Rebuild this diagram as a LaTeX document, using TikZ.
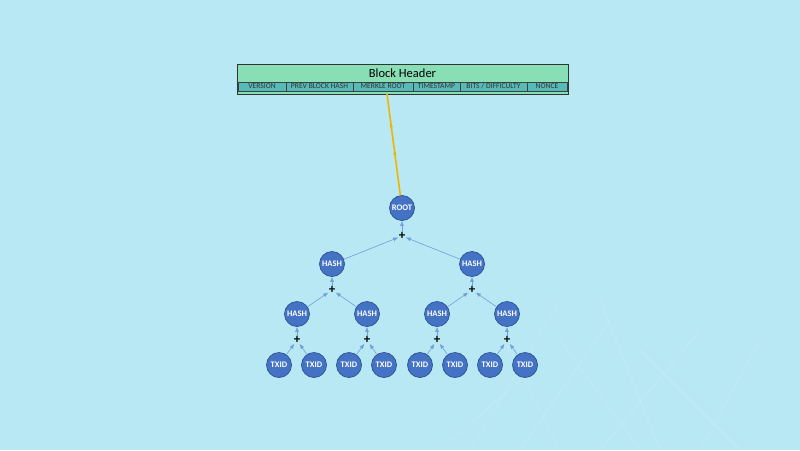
\documentclass[tikz,border=0pt]{standalone}
\usepackage{fontspec}
\setmainfont{Carlito}
\usetikzlibrary{arrows.meta}
\usetikzlibrary{decorations.markings}
\definecolor{skyback}{HTML}{B9E8F5}
\definecolor{headgreen}{HTML}{88DFB6}
\definecolor{fieldteal}{HTML}{55BBB8}
\definecolor{nodeblue}{HTML}{4472C4}
\definecolor{nodeedge}{HTML}{2F528F}
\definecolor{linkblue}{HTML}{6F9FD8}
\definecolor{goldline}{HTML}{F0B400}
\tikzset{hnode/.style = {circle, fill=nodeblue, draw=nodeedge, line width=0.7, minimum size=25, inner sep=0, text=white, font=\bfseries\fontsize{8.5}{9}\selectfont}}
\tikzset{plusnode/.style = {inner sep=0, minimum size=7, font=\bfseries\fontsize{13}{13}\selectfont}}
\tikzset{field/.style = {draw=black!75, fill=fieldteal, line width=0.5, minimum height=9, inner sep=0, font=\fontsize{7.6}{7}\selectfont, text=black!80}}
\tikzset{link/.style = {draw=linkblue, line width=0.6, -{Latex[length=5,width=4]}}}
\tikzset{goldlink/.style = {draw=goldline, line width=1.6, postaction={decorate},
  decoration={markings, mark=at position 0.45 with {\arrow{Latex[length=5,width=3.5]}},
  mark=at position 0.72 with {\arrow{Latex[length=5,width=3.5]}}}}}

\begin{document}
\begin{tikzpicture}[x=1pt, y=-1pt]
      \fill [skyback] (0,0) rectangle (800,450);
      \useasboundingbox (0,0) rectangle (800,450);
      % faint lines in the background
      \draw [white, opacity=0.2, line width=0.4]
        (470,450) -- (560,300) (520,450) -- (610,320) (560,450) -- (500,330)
        (600,450) -- (700,330) (640,450) -- (560,340) (700,450) -- (760,340)
        (740,450) -- (640,350) (440,450) -- (520,380) (660,450) -- (600,300);

      % block header
      \node [draw=black!80, fill=headgreen, line width=0.7, minimum width=331, minimum height=30, inner sep=0] (hdr) at (402.5,79) {};
      \node at (402.5,73) (title) {\fontsize{12.5}{13}\selectfont Block Header};
      \node [field, minimum width=48] (ver) at (262,86.5) {VERSION};
      \node [field, minimum width=67] (prev) at (319.5,86.5) {PREV BLOCK HASH};
      \node [field, minimum width=60] (mrkl) at (383,86.5) {MERKLE ROOT};
      \node [field, minimum width=47] (time) at (436.5,86.5) {TIMESTAMP};
      \node [field, minimum width=67] (bits) at (493.5,86.5) {BITS / DIFFICULTY};
      \node [field, minimum width=40] (nonce) at (547,86.5) {NONCE};
      \coordinate (mrklfoot) at (387,94);

      % merkle tree
      \node [hnode] (root) at (402,208) {ROOT};
      \node [plusnode] (p0) at (402,236) {+};
      \node [hnode] (h1) at (332,264) {HASH};
      \node [hnode] (h2) at (472,264) {HASH};
      \node [plusnode] (p1) at (332,290) {+};
      \node [plusnode] (p2) at (472,290) {+};
      \node [hnode] (h11) at (297,314) {HASH};
      \node [hnode] (h12) at (367,314) {HASH};
      \node [hnode] (h21) at (437,314) {HASH};
      \node [hnode] (h22) at (507,314) {HASH};
      \node [plusnode] (p11) at (297,340) {+};
      \node [plusnode] (p12) at (367,340) {+};
      \node [plusnode] (p21) at (437,340) {+};
      \node [plusnode] (p22) at (507,340) {+};
      \node [hnode] (t1) at (279,365) {TXID};
      \node [hnode] (t2) at (314,365) {TXID};
      \node [hnode] (t3) at (349,365) {TXID};
      \node [hnode] (t4) at (384,365) {TXID};
      \node [hnode] (t5) at (420,365) {TXID};
      \node [hnode] (t6) at (455,365) {TXID};
      \node [hnode] (t7) at (490,365) {TXID};
      \node [hnode] (t8) at (525,365) {TXID};

      \draw [goldlink] (root) -- (mrklfoot);

      \draw [link] (h1) -- (p0);
      \draw [link] (h2) -- (p0);
      \draw [link] (p0) -- (root);
      \draw [link] (h11) -- (p1);
      \draw [link] (h12) -- (p1);
      \draw [link] (p1) -- (h1);
      \draw [link] (h21) -- (p2);
      \draw [link] (h22) -- (p2);
      \draw [link] (p2) -- (h2);
      \draw [link] (t1) -- (p11);
      \draw [link] (t2) -- (p11);
      \draw [link] (p11) -- (h11);
      \draw [link] (t3) -- (p12);
      \draw [link] (t4) -- (p12);
      \draw [link] (p12) -- (h12);
      \draw [link] (t5) -- (p21);
      \draw [link] (t6) -- (p21);
      \draw [link] (p21) -- (h21);
      \draw [link] (t7) -- (p22);
      \draw [link] (t8) -- (p22);
      \draw [link] (p22) -- (h22);
    \end{tikzpicture}
\end{document}
